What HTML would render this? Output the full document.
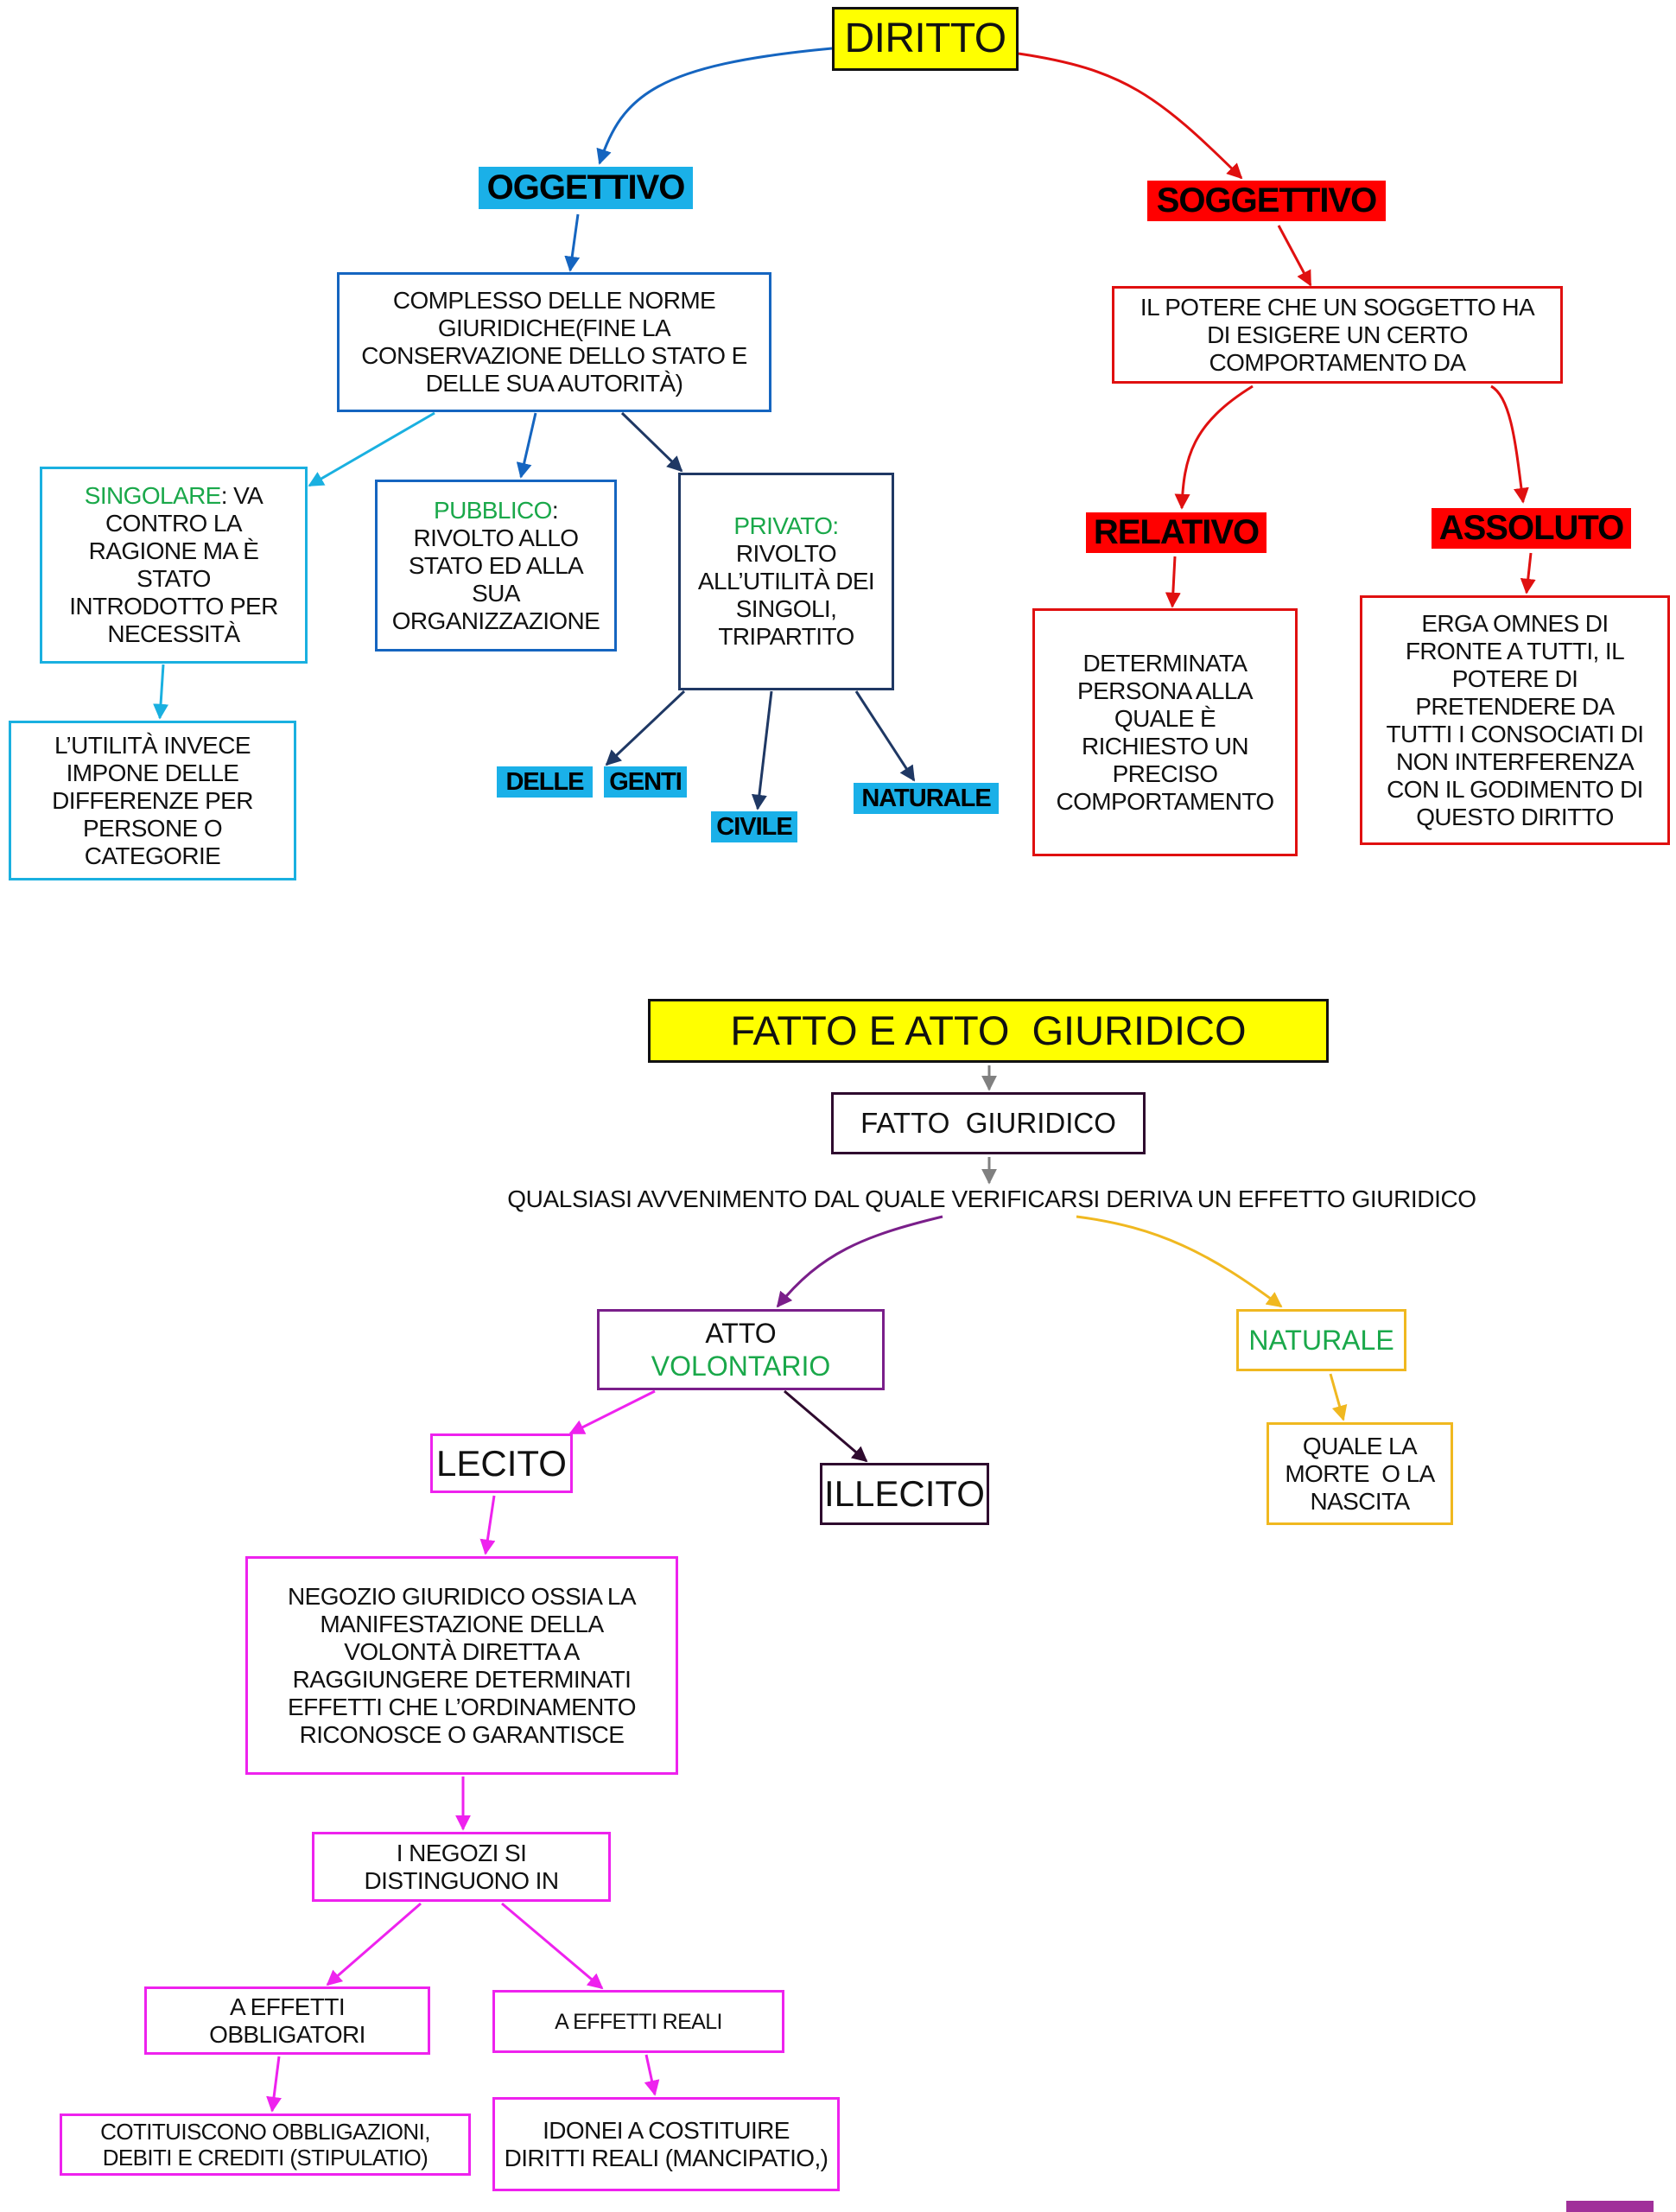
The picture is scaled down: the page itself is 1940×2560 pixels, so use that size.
<!DOCTYPE html>
<html><head><meta charset="utf-8"><style>
body{margin:0;width:1940px;height:2560px;position:relative;background:#fff;overflow:hidden;font-family:"Liberation Sans",Arial,sans-serif;}
.b{position:absolute;box-sizing:border-box;display:flex;align-items:center;justify-content:center;text-align:center;color:#111;letter-spacing:-0.6px;line-height:32px;font-size:28px;}
.g{color:#1aa84a}
.lab{position:absolute;display:flex;align-items:center;justify-content:center;font-weight:bold;color:#000;letter-spacing:-1px;}
svg{position:absolute;left:0;top:0}
</style></head><body>
<svg width="1940" height="2560">
<defs>
<marker id="a" viewBox="0 0 10 10" refX="9" refY="5" markerWidth="6" markerHeight="6" orient="auto"><path d="M0,0L10,5L0,10z" fill="context-stroke"/></marker>
</defs>
<g fill="none" stroke-width="3" marker-end="url(#a)">
<path d="M963,56 C760,75 720,110 694,189" stroke="#1565c0"/>
<path d="M1179,62 C1300,80 1340,110 1437,206" stroke="#e01010"/>
<path d="M669,248 L660,313" stroke="#1565c0"/>
<path d="M1480,261 L1517,330" stroke="#e01010"/>
<path d="M503,478 L358,562" stroke="#1ab0e0"/>
<path d="M620,478 L603,552" stroke="#1565c0"/>
<path d="M720,478 L789,545" stroke="#1f3864"/>
<path d="M189,769 L185,831" stroke="#1ab0e0"/>
<path d="M792,800 L702,885" stroke="#1f3864"/>
<path d="M893,800 L877,936" stroke="#1f3864"/>
<path d="M991,800 L1058,903" stroke="#1f3864"/>
<path d="M1450,447 C1380,490 1370,530 1368,588" stroke="#e01010"/>
<path d="M1726,447 C1750,460 1755,520 1763,581" stroke="#e01010"/>
<path d="M1360,644 L1357,702" stroke="#e01010"/>
<path d="M1772,640 L1767,686" stroke="#e01010"/>
<path d="M1145,1233 L1145,1261" stroke="#808080"/>
<path d="M1145,1339 L1145,1369" stroke="#808080"/>
<path d="M1091,1408 C1000,1430 950,1450 900,1512" stroke="#7a1f8a"/>
<path d="M1246,1408 C1340,1420 1400,1450 1483,1512" stroke="#f0b820"/>
<path d="M1540,1590 L1555,1643" stroke="#f0b820"/>
<path d="M758,1610 L660,1659" stroke="#ee22ee"/>
<path d="M908,1610 L1003,1691" stroke="#2e0a2e"/>
<path d="M572,1731 L562,1798" stroke="#ee22ee"/>
<path d="M536,2056 L536,2117" stroke="#ee22ee"/>
<path d="M487,2203 L379,2297" stroke="#ee22ee"/>
<path d="M581,2203 L697,2301" stroke="#ee22ee"/>
<path d="M323,2380 L315,2443" stroke="#ee22ee"/>
<path d="M748,2378 L758,2424" stroke="#ee22ee"/>
</g>
</svg>

<div class="b" style="left:963px;top:8px;width:216px;height:74px;background:#ffff00;border:3px solid #111;font-size:48px;">DIRITTO</div>
<div class="lab" style="left:554px;top:193px;width:248px;height:49px;background:#1ab0e8;font-size:40px;">OGGETTIVO</div>
<div class="lab" style="left:1328px;top:209px;width:276px;height:47px;background:#ff0000;font-size:40px;">SOGGETTIVO</div>
<div class="b" style="left:390px;top:315px;width:503px;height:162px;border:3px solid #1565c0;">COMPLESSO DELLE NORME<br>GIURIDICHE(FINE LA<br>CONSERVAZIONE DELLO STATO E<br>DELLE SUA AUTORITÀ)</div>
<div class="b" style="left:1287px;top:331px;width:522px;height:113px;border:3px solid #e01010;">IL POTERE CHE UN SOGGETTO HA<br>DI ESIGERE UN CERTO<br>COMPORTAMENTO DA</div>
<div class="b" style="left:46px;top:540px;width:310px;height:228px;border:3px solid #1ab0e0;"><div><span class="g">SINGOLARE</span>: VA<br>CONTRO LA<br>RAGIONE MA È<br>STATO<br>INTRODOTTO PER<br>NECESSITÀ</div></div>
<div class="b" style="left:434px;top:555px;width:280px;height:199px;border:3px solid #1565c0;"><div><span class="g">PUBBLICO</span>:<br>RIVOLTO ALLO<br>STATO ED ALLA<br>SUA<br>ORGANIZZAZIONE</div></div>
<div class="b" style="left:785px;top:547px;width:250px;height:252px;border:3px solid #1f3864;"><div><span class="g">PRIVATO:</span><br>RIVOLTO<br>ALL’UTILITÀ DEI<br>SINGOLI,<br>TRIPARTITO</div></div>
<div class="b" style="left:10px;top:834px;width:333px;height:185px;border:3px solid #1ab0e0;">L’UTILITÀ INVECE<br>IMPONE DELLE<br>DIFFERENZE PER<br>PERSONE O<br>CATEGORIE</div>
<div class="lab" style="left:575px;top:887px;width:111px;height:36px;background:#1ab0e8;font-size:29px;">DELLE</div>
<div class="lab" style="left:699px;top:887px;width:96px;height:36px;background:#1ab0e8;font-size:29px;">GENTI</div>
<div class="lab" style="left:823px;top:939px;width:100px;height:36px;background:#1ab0e8;font-size:29px;">CIVILE</div>
<div class="lab" style="left:988px;top:906px;width:168px;height:36px;background:#1ab0e8;font-size:29px;">NATURALE</div>
<div class="lab" style="left:1257px;top:593px;width:209px;height:47px;background:#ff0000;font-size:40px;">RELATIVO</div>
<div class="lab" style="left:1657px;top:588px;width:231px;height:47px;background:#ff0000;font-size:40px;">ASSOLUTO</div>
<div class="b" style="left:1195px;top:704px;width:307px;height:287px;border:3px solid #e01010;">DETERMINATA<br>PERSONA ALLA<br>QUALE È<br>RICHIESTO UN<br>PRECISO<br>COMPORTAMENTO</div>
<div class="b" style="left:1574px;top:689px;width:359px;height:289px;border:3px solid #e01010;">ERGA OMNES DI<br>FRONTE A TUTTI, IL<br>POTERE DI<br>PRETENDERE DA<br>TUTTI I CONSOCIATI DI<br>NON INTERFERENZA<br>CON IL GODIMENTO DI<br>QUESTO DIRITTO</div>

<div class="b" style="left:750px;top:1156px;width:788px;height:74px;background:#ffff00;border:3px solid #111;font-size:47px;letter-spacing:0;">FATTO E ATTO &nbsp;GIURIDICO</div>
<div class="b" style="left:962px;top:1264px;width:364px;height:72px;border:3px solid #2e0a2e;font-size:33px;letter-spacing:0;">FATTO &nbsp;GIURIDICO</div>
<div class="b" style="left:448px;top:1370px;width:1400px;height:36px;font-size:28px;letter-spacing:-0.4px;">QUALSIASI AVVENIMENTO DAL QUALE VERIFICARSI DERIVA UN EFFETTO GIURIDICO</div>
<div class="b" style="left:691px;top:1515px;width:333px;height:94px;border:3px solid #7a1f8a;font-size:32px;line-height:38px;letter-spacing:0;"><div>ATTO<br><span class="g">VOLONTARIO</span></div></div>
<div class="b" style="left:1431px;top:1515px;width:197px;height:72px;border:3px solid #f0b820;font-size:32px;letter-spacing:0;"><span class="g">NATURALE</span></div>
<div class="b" style="left:1466px;top:1646px;width:216px;height:119px;border:3px solid #f0b820;">QUALE LA<br>MORTE &nbsp;O LA<br>NASCITA</div>
<div class="b" style="left:498px;top:1659px;width:165px;height:69px;border:3px solid #ee22ee;font-size:42px;letter-spacing:0;">LECITO</div>
<div class="b" style="left:949px;top:1693px;width:196px;height:72px;border:3px solid #2e0a2e;font-size:42px;letter-spacing:0;">ILLECITO</div>
<div class="b" style="left:284px;top:1801px;width:501px;height:253px;border:3px solid #ee22ee;">NEGOZIO GIURIDICO OSSIA LA<br>MANIFESTAZIONE DELLA<br>VOLONTÀ DIRETTA A<br>RAGGIUNGERE DETERMINATI<br>EFFETTI CHE L’ORDINAMENTO<br>RICONOSCE O GARANTISCE</div>
<div class="b" style="left:361px;top:2120px;width:346px;height:81px;border:3px solid #ee22ee;">I NEGOZI SI<br>DISTINGUONO IN</div>
<div class="b" style="left:167px;top:2299px;width:331px;height:79px;border:3px solid #ee22ee;">A EFFETTI<br>OBBLIGATORI</div>
<div class="b" style="left:570px;top:2303px;width:338px;height:73px;border:3px solid #ee22ee;font-size:25px;">A EFFETTI REALI</div>
<div class="b" style="left:69px;top:2446px;width:476px;height:72px;border:3px solid #ee22ee;font-size:26px;line-height:30px;">COTITUISCONO OBBLIGAZIONI,<br>DEBITI E CREDITI (STIPULATIO)</div>
<div class="b" style="left:570px;top:2427px;width:402px;height:109px;border:3px solid #ee22ee;">IDONEI A COSTITUIRE<br>DIRITTI REALI (MANCIPATIO,)</div>
<div style="position:absolute;left:1813px;top:2547px;width:101px;height:13px;background:#a0309a;"></div>
</body></html>
